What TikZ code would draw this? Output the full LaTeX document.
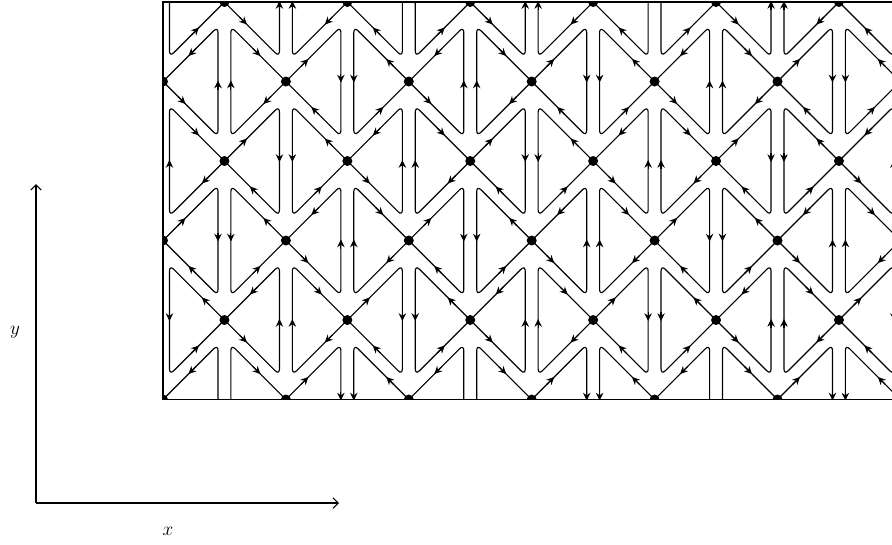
\documentclass[tikz,border=0pt]{standalone}
\usetikzlibrary{arrows.meta}
\begin{document}
\begin{tikzpicture}[x=0.75pt,y=-0.75pt]
\tikzset{
  flowline/.style={line width=0.85pt, rounded corners=4.5pt},
  flowarr/.style={line width=0.85pt, -{Stealth[length=5.8pt,width=5.6pt,inset=1.9pt]}},
  saddle/.style={fill=black},
  framebox/.style={line width=0.85pt},
  axis/.style={line width=0.8pt, -{Straight Barb[length=4pt,width=8pt]}},
  axlabel/.style={inner sep=0pt, font=\Large}
}
\useasboundingbox (0,0) rectangle (892,544);
\begin{scope}
\clip (163,2) rectangle (892,399.5);
\foreach \n in {0,...,5}{
  \foreach \m in {0,...,13}{
    \pgfmathtruncatemacro{\odd}{mod(\m+\n,2)}
    \ifnum\odd=1
      \pgfmathsetmacro{\cx}{163+61.45*\m}
      \pgfmathsetmacro{\cy}{2+79.5*\n}
      \pgfmathtruncatemacro{\s}{mod(floor(\m/2)+floor(\n/2),2)}
      \draw[flowline] (\cx,\cy) -- (\cx-55,\cy-55) -- (\cx-55,\cy+55) -- (\cx+55,\cy-55) -- (\cx+55,\cy+55) -- cycle;
      \ifnum\s=1
        % clockwise
        \draw[flowarr] (\cx-33,\cy-33) -- (\cx-25.5,\cy-25.5);
        \draw[flowarr] (\cx-15,\cy+15) -- (\cx-22.5,\cy+22.5);
        \draw[flowarr] (\cx-55,\cy+8) -- (\cx-55,\cy-1);
        \draw[flowarr] (\cx+15,\cy-15) -- (\cx+22.5,\cy-22.5);
        \draw[flowarr] (\cx+55,\cy-8) -- (\cx+55,\cy+1);
        \draw[flowarr] (\cx+33,\cy+33) -- (\cx+25.5,\cy+25.5);
      \else
        % counter-clockwise
        \draw[flowarr] (\cx-15,\cy-15) -- (\cx-22.5,\cy-22.5);
        \draw[flowarr] (\cx-33,\cy+33) -- (\cx-25.5,\cy+25.5);
        \draw[flowarr] (\cx-55,\cy-8) -- (\cx-55,\cy+1);
        \draw[flowarr] (\cx+33,\cy-33) -- (\cx+25.5,\cy-25.5);
        \draw[flowarr] (\cx+55,\cy+8) -- (\cx+55,\cy-1);
        \draw[flowarr] (\cx+15,\cy+15) -- (\cx+22.5,\cy+22.5);
      \fi
      \fill[saddle] (\cx,\cy) circle (5);
    \fi
  }
}
\end{scope}
\draw[framebox] (892,2) -- (163,2) -- (163,399.5) -- (892,399.5);
\coordinate (O) at (36,503);
\coordinate (Xend) at (339,503);
\coordinate (Yend) at (36,184);
\draw[axis] (O) -- (Xend);
\draw[axis] (O) -- (Yend);
\node[axlabel] (ylab) at (15,332) {$y$};
\node[axlabel] (xlab) at (168,531) {$x$};
\end{tikzpicture}
\end{document}
